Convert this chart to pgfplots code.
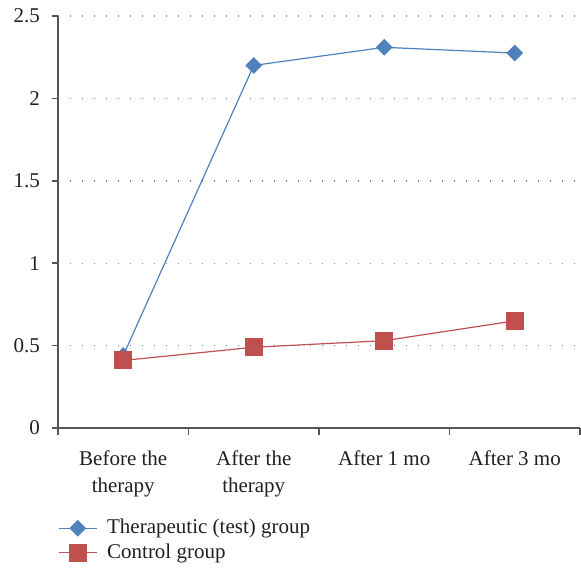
\documentclass[border=0pt]{standalone}
\usepackage{fontspec}
\setmainfont{Liberation Serif}
\usepackage{pgfplots}
\pgfplotsset{compat=1.18}
\definecolor{tblue}{HTML}{4F81BD}
\definecolor{cred}{HTML}{C0504D}
\definecolor{axgray}{HTML}{555555}
\definecolor{txt}{HTML}{231F20}
\begin{document}
\begin{tikzpicture}
\useasboundingbox (-29pt,-69.5pt) rectangle (261.5pt,214pt);
\begin{axis}[
  scale only axis, width=261pt, height=206pt,
  at={(0,0)}, anchor=south west,
  xmin=-0.5, xmax=3.5, ymin=0, ymax=2.5,
  axis lines=left, axis line style={axgray, line width=0.8pt, -},
  xtick={0,1,2,3},
  xticklabels={{Before the\\therapy},{After the\\therapy},{After 1 mo},{After 3 mo}},
  xticklabel style={align=center, font=\fontsize{10.5}{13.5}\selectfont, text=txt, yshift=-5pt},
  major x tick style={draw=none},
  minor xtick={-0.5,0.5,1.5,2.5,3.5},
  minor tick length=3.5pt,
  minor tick style={axgray, line width=0.8pt},
  ytick={0,0.5,1,1.5,2,2.5},
  yticklabels={0,0.5,1,1.5,2,2.5},
  yticklabel style={font=\fontsize{10.5}{12}\selectfont, text=txt, xshift=-2.5pt},
  major y tick style={axgray, line width=0.8pt},
  major tick length=3pt,
  tick align=outside,
  ymajorgrids, grid style={gray, line width=0.7pt, dash pattern=on 0.7pt off 5.3pt},
  legend style={at={(0,0)}, anchor=north west, yshift=-41.5pt, draw=none, fill=none,
    font=\fontsize{10.5}{12}\selectfont, text=txt, row sep=-0.5pt, inner xsep=0pt,
    /tikz/every odd column/.append style={column sep=3pt}},
  legend cell align=left,
  legend image code/.code={\draw[mark repeat=2,mark phase=2] plot coordinates {(0cm,0cm) (0.33cm,0cm) (0.66cm,0cm)};},
]
\addplot[tblue, line width=0.6pt, mark=square*, mark size=2.65pt, mark options={rotate=45, fill=tblue}]
  coordinates {(0,0.44) (1,2.20) (2,2.31) (3,2.275)};
\addlegendentry{Therapeutic (test) group}
\addplot[cred, line width=0.6pt, mark=square*, mark size=4.2pt, mark options={fill=cred}]
  coordinates {(0,0.41) (1,0.49) (2,0.53) (3,0.65)};
\addlegendentry{Control group}
\end{axis}
\end{tikzpicture}
\end{document}
